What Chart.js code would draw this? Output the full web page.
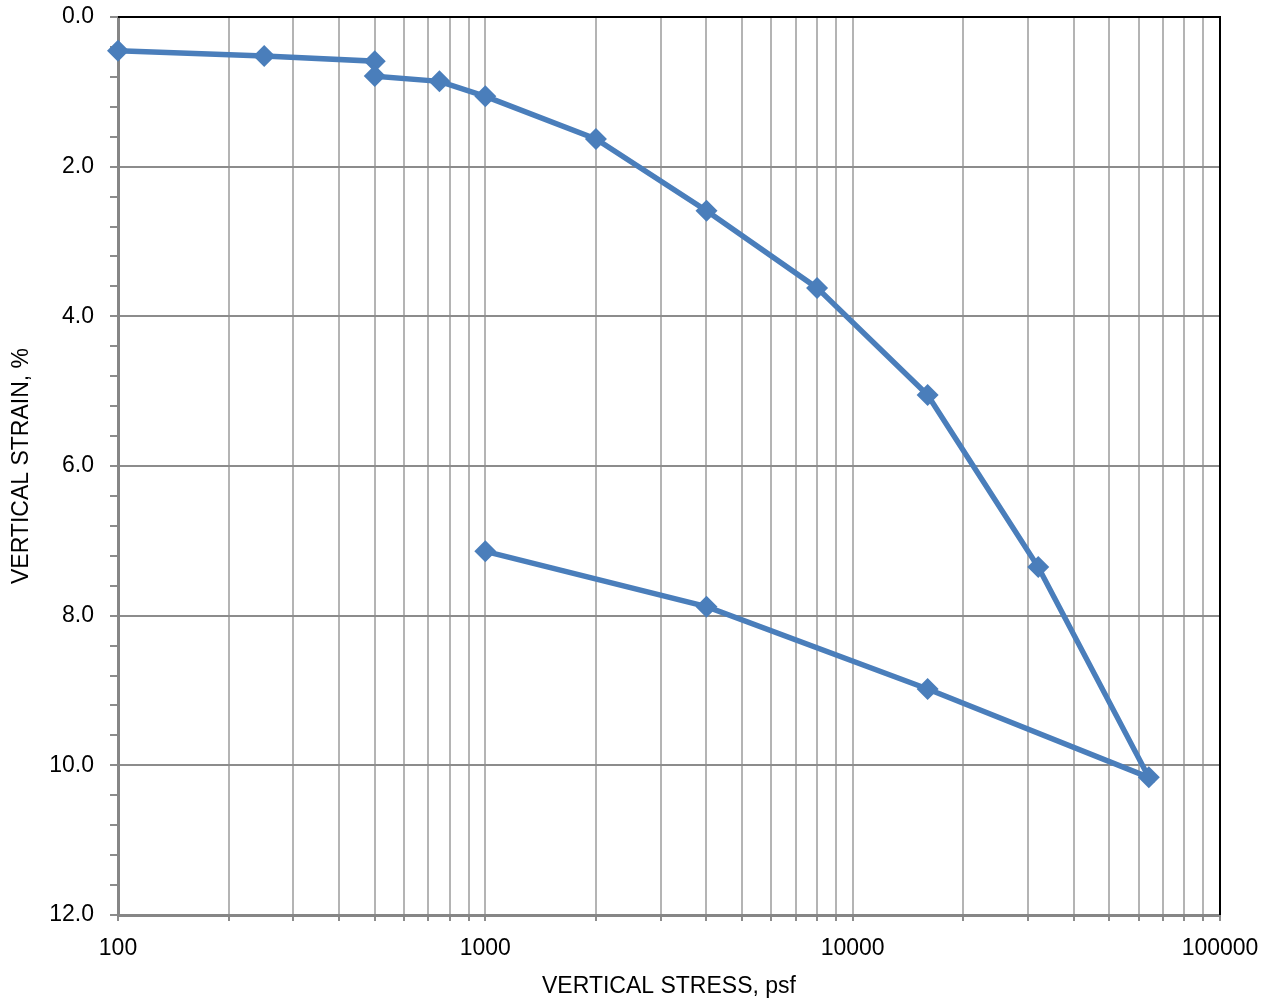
<!DOCTYPE html>
<html>
<head>
<meta charset="utf-8">
<script src="https://cdn.jsdelivr.net/npm/chart.js@4.4.0/dist/chart.umd.min.js"></script>
<style>
  html, body { margin: 0; padding: 0; background: #ffffff; }
  #wrap { width: 1270px; height: 1000px; position: relative; }
</style>
</head>
<body>
<div id="wrap"><canvas id="c" width="1270" height="1000"></canvas></div>
<script>
// Data
const stressPsf = [100, 250, 500, 500, 750, 1000, 2000, 4000, 8000, 16000, 32000, 64000, 16000, 4000, 1000];
const strainPct = [0.45, 0.52, 0.59, 0.79, 0.86, 1.06, 1.63, 2.59, 3.62, 5.05, 7.35, 10.16, 8.98, 7.88, 7.14];
const xDecades = [100, 1000, 10000, 100000];
const yMajorLabels = [0, 2, 4, 6, 8, 10, 12];

const FONT = "'Liberation Sans', Arial, sans-serif";
const FONT_SIZE = 23;
const lineColor = '#4a7ebb';

const points = stressPsf.map((x, i) => ({ x: x, y: strainPct[i] }));

// x tick values: decades plus 2..9 multiples
const xTickValues = [];
xDecades.forEach((d, i) => {
  xTickValues.push(d);
  if (i < xDecades.length - 1) for (let m = 2; m <= 9; m++) xTickValues.push(d * m);
});
const isDecade = v => xDecades.some(d => Math.abs(d - v) < 1e-6);
const isMajorY = v => yMajorLabels.some(d => Math.abs(d - v) < 1e-6);

const borderPlugin = {
  id: 'borders',
  beforeDatasetsDraw(chart) {
    const { ctx, chartArea: a } = chart;
    ctx.save();
    ctx.strokeStyle = '#000000';
    ctx.lineWidth = 2;
    ctx.beginPath();
    ctx.moveTo(a.left, a.top);
    ctx.lineTo(a.right, a.top);
    ctx.lineTo(a.right, a.bottom);
    ctx.stroke();
    ctx.restore();
  }
};

new Chart(document.getElementById('c'), {
  type: 'scatter',
  data: {
    datasets: [{
      data: points,
      showLine: true,
      clip: false,
      borderColor: lineColor,
      backgroundColor: lineColor,
      borderWidth: 5.5,
      pointStyle: 'rectRot',
      pointRadius: 11,
      pointHoverRadius: 11,
      pointBorderWidth: 0,
      tension: 0
    }]
  },
  options: {
    responsive: false,
    animation: false,
    events: [],
    layout: { padding: { left: 0, top: 17, right: 50, bottom: 0 } },
    plugins: { legend: { display: false }, tooltip: { enabled: false } },
    scales: {
      x: {
        type: 'logarithmic',
        min: 100,
        max: 100000,
        afterBuildTicks(scale) {
          scale.ticks = xTickValues.map(v => ({ value: v }));
        },
        afterFit(scale) {
          scale.height = 85;
          scale.paddingLeft = 0; scale.paddingRight = 0;
          scale.paddingTop = 0; scale.paddingBottom = 0;
        },
        ticks: {
          autoSkip: false,
          maxRotation: 0,
          minRotation: 0,
          padding: 14,
          color: '#000000',
          font: { family: FONT, size: FONT_SIZE },
          callback: (v) => isDecade(v) ? String(Math.round(v)) : ''
        },
        grid: {
          color: '#b4b4b4',
          lineWidth: 2,
          tickLength: 6,
          tickColor: '#8c8c8c',
          drawTicks: true
        },
        border: { color: '#868686', width: 3 },
        title: {
          display: true,
          text: 'VERTICAL STRESS, psf',
          color: '#000000',
          font: { family: FONT, size: FONT_SIZE },
          padding: { top: 4, bottom: 0 }
        }
      },
      y: {
        type: 'linear',
        reverse: true,
        min: 0,
        max: 12,
        afterBuildTicks(scale) {
          const t = [];
          for (let i = 0; i <= 30; i++) t.push({ value: Math.round(i * 0.4 * 10) / 10 });
          scale.ticks = t;
        },
        afterFit(scale) {
          scale.width = 118;
          scale.paddingLeft = 0; scale.paddingRight = 0;
          scale.paddingTop = 0; scale.paddingBottom = 0;
        },
        ticks: {
          autoSkip: false,
          padding: 16,
          color: '#000000',
          font: { family: FONT, size: FONT_SIZE },
          callback: (v) => isMajorY(v) ? Number(v).toFixed(1) : ''
        },
        grid: {
          color: (ctx) => (ctx.tick && isMajorY(ctx.tick.value) && ctx.tick.value !== 0 && ctx.tick.value !== 12) ? '#8c8c8c' : 'rgba(0,0,0,0)',
          lineWidth: 2,
          tickLength: 8,
          tickColor: '#8c8c8c',
          drawTicks: true
        },
        border: { color: '#868686', width: 3 },
        title: {
          display: true,
          text: 'VERTICAL STRAIN, %',
          color: '#000000',
          font: { family: FONT, size: FONT_SIZE },
          padding: { top: 8, bottom: 4 }
        }
      }
    }
  },
  plugins: [borderPlugin]
});
</script>
</body>
</html>
